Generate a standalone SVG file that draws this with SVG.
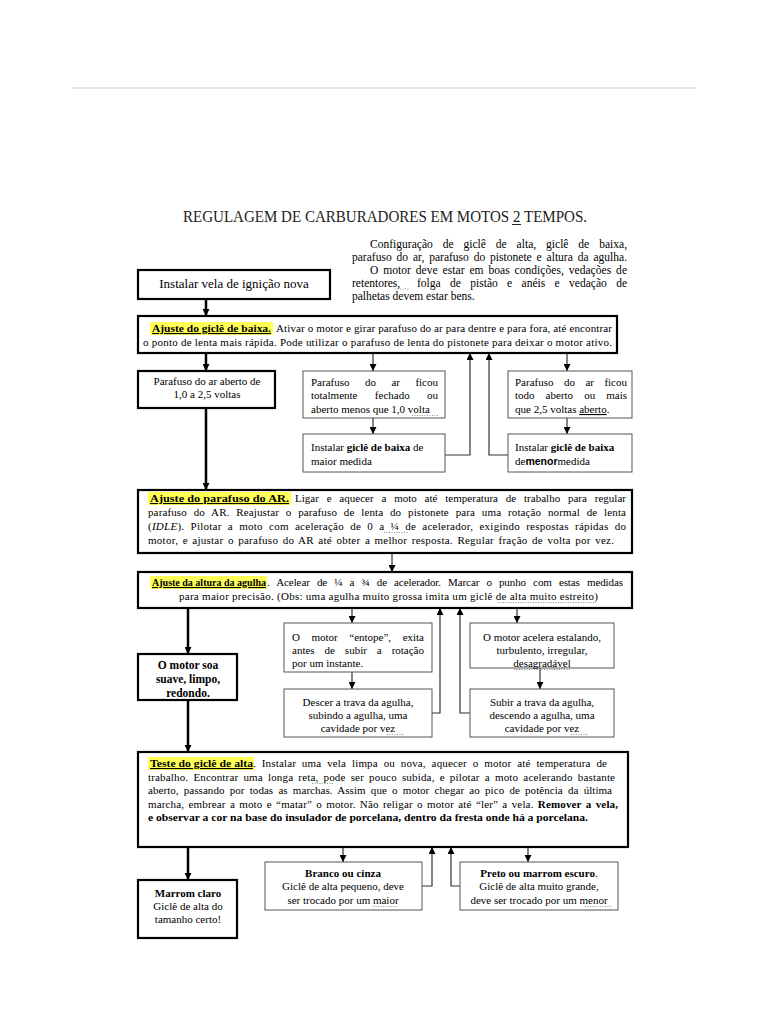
<svg xmlns="http://www.w3.org/2000/svg" width="768" height="1024" viewBox="0 0 768 1024">
<style>
.t{font-family:"Liberation Serif","Times New Roman",serif;font-size:11px;fill:#000}
.p{font-size:11.5px}
.b{font-weight:bold}
.i{font-style:italic}
.u{text-decoration:underline}
.m{text-anchor:middle}
.thick{fill:#fff;stroke:#000;stroke-width:2.2}
.thin{fill:#fff;stroke:#555;stroke-width:1}
.hl{fill:#ffff55}
.c1{fill:none;stroke:#000;stroke-width:2.5}
.c2{fill:none;stroke:#333;stroke-width:1.2}
.sq{stroke:#7f9f7f;stroke-width:1;stroke-dasharray:1 1.5}
</style>
<defs>
<marker id="ah" viewBox="0 0 8 8" refX="8" refY="4" markerWidth="7" markerHeight="7" markerUnits="userSpaceOnUse" orient="auto"><path d="M0,0 L8,4 L0,8 z" fill="#000"/></marker>
</defs>
<rect width="768" height="1024" fill="#fff"/>
<line x1="72" y1="88" x2="696" y2="88" stroke="#dedede" stroke-width="1.5"/>

<g id="title">
<text class="t" x="183" y="222" style="font-size:16px;fill:#222" textLength="404" lengthAdjust="spacingAndGlyphs">REGULAGEM DE CARBURADORES EM MOTOS 2 TEMPOS.</text>
<line x1="512" y1="224.5" x2="521" y2="224.5" stroke="#222" stroke-width="1"/>
</g>

<g id="intro">
<text class="t p" x="370" y="248" style="word-spacing:7px" textLength="257" lengthAdjust="spacing">Configuração de giclê de alta, giclê de baixa,</text>
<text class="t p" x="352" y="261" style="word-spacing:2px" textLength="275" lengthAdjust="spacing">parafuso do ar, parafuso do pistonete e altura da agulha.</text>
<text class="t p" x="370" y="274" style="word-spacing:2px" textLength="257" lengthAdjust="spacing">O motor deve estar em boas condições, vedações de</text>
<text class="t p" x="352" y="287">retentores,</text>
<line class="sq" x1="395" y1="289" x2="410" y2="289"/>
<text class="t p" x="417" y="287" style="word-spacing:6.5px" textLength="210" lengthAdjust="spacing">folga de pistão e anéis e vedação de</text>
<text class="t p" x="352" y="300">palhetas devem estar bens.</text>
</g>

<g id="connectors">
<path class="c1" d="M206,299 V316" marker-end="url(#ah)"/>
<path class="c1" d="M206,353 V371" marker-end="url(#ah)"/>
<path class="c1" d="M206,408 V490" marker-end="url(#ah)"/>
<path class="c1" d="M188,608 V654" marker-end="url(#ah)"/>
<path class="c1" d="M188,700 V752" marker-end="url(#ah)"/>
<path class="c1" d="M188,847 V880" marker-end="url(#ah)"/>
<path class="c2" d="M373,353 V371" marker-end="url(#ah)"/>
<path class="c2" d="M373,418 V434" marker-end="url(#ah)"/>
<path class="c2" d="M445,455 H470 V353" marker-end="url(#ah)"/>
<path class="c2" d="M508,455 H489 V353" marker-end="url(#ah)"/>
<path class="c2" d="M567,353 V371" marker-end="url(#ah)"/>
<path class="c2" d="M567,418 V434" marker-end="url(#ah)"/>
<path class="c2" d="M392,553 V572" marker-end="url(#ah)"/>
<path class="c2" d="M352,608 V623" marker-end="url(#ah)"/>
<path class="c2" d="M352,672 V689" marker-end="url(#ah)"/>
<path class="c2" d="M432,713 H440 V608" marker-end="url(#ah)"/>
<path class="c2" d="M470,713 H460 V608" marker-end="url(#ah)"/>
<path class="c2" d="M517,608 V623" marker-end="url(#ah)"/>
<path class="c2" d="M540,668 V689" marker-end="url(#ah)"/>
<path class="c2" d="M343,847 V862" marker-end="url(#ah)"/>
<path class="c2" d="M422,886 H432 V847" marker-end="url(#ah)"/>
<path class="c2" d="M460,886 H451 V847" marker-end="url(#ah)"/>
<path class="c2" d="M528,847 V862" marker-end="url(#ah)"/>
</g>

<g id="vela">
<rect class="thick" x="138" y="270" width="192" height="29"/>
<text class="t m" x="234" y="288" style="font-size:13px">Instalar vela de ignição nova</text>
</g>

<g id="gicle-baixa">
<rect class="thick" x="138" y="316" width="479" height="37"/>
<rect class="hl" x="150" y="322" width="123" height="13"/>
<text class="t b u" x="152" y="332" textLength="119" lengthAdjust="spacingAndGlyphs">Ajuste do giclê de baixa.</text>
<text class="t" x="276" y="332" textLength="336" lengthAdjust="spacing">Ativar o motor e girar parafuso do ar para dentre e para fora, até encontrar</text>
<text class="t" x="143" y="346" textLength="469" lengthAdjust="spacing">o ponto de lenta mais rápida. Pode utilizar o parafuso de lenta do pistonete para deixar o motor ativo.</text>
</g>

<g id="ar-aberto">
<rect class="thick" x="138" y="371" width="137" height="37"/>
<text class="t m" x="207" y="385">Parafuso do ar aberto de</text>
<text class="t m" x="207" y="398">1,0 a 2,5 voltas</text>
</g>

<g id="ar-fechado">
<rect class="thin" x="303" y="371" width="142" height="47"/>
<text class="t" x="311" y="386" style="word-spacing:12.7px" textLength="127" lengthAdjust="spacing">Parafuso do ar ficou</text>
<text class="t" x="311" y="399" style="word-spacing:14.6px" textLength="127" lengthAdjust="spacing">totalmente fechado ou</text>
<text class="t" x="311" y="413">aberto menos que 1,0 volta</text>
<line class="sq" x1="412" y1="415.5" x2="438" y2="415.5"/>
</g>

<g id="baixa-maior">
<rect class="thin" x="303" y="434" width="142" height="38"/>
<text class="t" x="311" y="451">Instalar <tspan class="b">giclê de baixa</tspan> de</text>
<text class="t" x="311" y="465">maior medida</text>
</g>

<g id="ar-aberto-mais">
<rect class="thin" x="508" y="371" width="124" height="47"/>
<text class="t" x="515" y="386" style="word-spacing:7.7px" textLength="112" lengthAdjust="spacing">Parafuso do ar ficou</text>
<text class="t" x="515" y="399" style="word-spacing:8.3px" textLength="112" lengthAdjust="spacing">todo aberto ou mais</text>
<text class="t" x="515" y="413">que 2,5 voltas <tspan class="u">aberto</tspan>.</text>
</g>

<g id="baixa-menor">
<rect class="thin" x="508" y="434" width="124" height="38"/>
<text class="t" x="515" y="451">Instalar <tspan class="b">giclê de baixa</tspan></text>
<text class="t" x="515" y="465">de<tspan class="b" style="font-family:'Liberation Sans',Arial,sans-serif;font-size:10.5px">menor</tspan>medida</text>
</g>

<g id="parafuso-ar">
<rect class="thick" x="138" y="490" width="494" height="63"/>
<rect class="hl" x="148" y="492" width="143" height="13"/>
<text class="t b u" x="150" y="502" textLength="139" lengthAdjust="spacingAndGlyphs">Ajuste do parafuso do AR.</text>
<text class="t" x="295" y="502" style="word-spacing:5px" textLength="331" lengthAdjust="spacing">Ligar e aquecer a moto até temperatura de trabalho para regular</text>
<text class="t" x="148" y="516" style="word-spacing:3.9px" textLength="478" lengthAdjust="spacing">parafuso do AR. Reajustar o parafuso de lenta do pistonete para uma rotação normal de lenta</text>
<text class="t" x="148" y="530" style="word-spacing:3.2px" textLength="478" lengthAdjust="spacing">(<tspan class="i">IDLE</tspan>). Pilotar a moto com aceleração de 0 a ¼ de acelerador, exigindo respostas rápidas do</text>
<line class="sq" x1="384" y1="532.5" x2="408" y2="532.5"/>
<text class="t" x="148" y="544" style="word-spacing:1.5px" textLength="466" lengthAdjust="spacing">motor, e ajustar o parafuso do AR até obter a melhor resposta. Regular fração de volta por vez.</text>
</g>

<g id="agulha">
<rect class="thick" x="138" y="572" width="494" height="36"/>
<rect class="hl" x="150" y="576" width="117" height="13"/>
<text class="t b u" x="152" y="586" textLength="114" lengthAdjust="spacingAndGlyphs">Ajuste da altura da agulha</text>
<text class="t" x="267" y="586" style="word-spacing:4.5px" textLength="356" lengthAdjust="spacing">. Acelear de ¼ a ¾ de acelerador. Marcar o punho com estas medidas</text>
<text class="t" x="179" y="600" textLength="419" lengthAdjust="spacing">para maior precisão. (Obs: uma agulha muito grossa imita um giclê de alta muito estreito)</text>
<line class="sq" x1="498" y1="602.5" x2="596" y2="602.5"/>
</g>

<g id="soa-suave">
<rect class="thick" x="138" y="654" width="99" height="46"/>
<text class="t b m" x="188" y="669" style="font-size:11.5px">O motor soa</text>
<text class="t b m" x="188" y="683" style="font-size:11.5px">suave, limpo,</text>
<text class="t b m" x="188" y="697" style="font-size:11.5px">redondo.</text>
</g>

<g id="entope">
<rect class="thin" x="284" y="623" width="148" height="49"/>
<text class="t" x="292" y="641" style="word-spacing:8.8px" textLength="132" lengthAdjust="spacing">O motor “entope”, exita</text>
<text class="t" x="292" y="654" style="word-spacing:7.2px" textLength="132" lengthAdjust="spacing">antes de subir a rotação</text>
<text class="t" x="292" y="667">por um instante.</text>
</g>

<g id="descer-trava">
<rect class="thin" x="284" y="689" width="148" height="48"/>
<text class="t m" x="358" y="706">Descer a trava da agulha,</text>
<text class="t m" x="358" y="719">subindo a agulha, uma</text>
<text class="t m" x="358" y="732">cavidade por vez</text>
<line class="sq" x1="387" y1="734.5" x2="403" y2="734.5"/>
</g>

<g id="estalando">
<rect class="thin" x="470" y="623" width="144" height="45"/>
<text class="t m" x="542" y="641">O motor acelera estalando,</text>
<text class="t m" x="542" y="654">turbulento, irregular,</text>
<text class="t m" x="542" y="667">desagradável</text>
<line class="sq" x1="514" y1="669.5" x2="570" y2="669.5"/>
</g>

<g id="subir-trava">
<rect class="thin" x="470" y="689" width="144" height="48"/>
<text class="t m" x="542" y="706">Subir a trava da agulha,</text>
<text class="t m" x="542" y="719">descendo a agulha, uma</text>
<text class="t m" x="542" y="732">cavidade por vez</text>
<line class="sq" x1="571" y1="734.5" x2="587" y2="734.5"/>
</g>

<g id="gicle-alta">
<rect class="thick" x="138" y="752" width="490" height="95"/>
<rect class="hl" x="148" y="757" width="106" height="13"/>
<text class="t b u" x="150" y="767" textLength="103" lengthAdjust="spacingAndGlyphs">Teste do giclê de alta</text>
<text class="t" x="253" y="767" style="word-spacing:3px" textLength="354" lengthAdjust="spacing">. Instalar uma vela limpa ou nova, aquecer o motor até temperatura de</text>
<text class="t" x="148" y="781" style="word-spacing:2.2px" textLength="467" lengthAdjust="spacing">trabalho. Encontrar uma longa reta, pode ser pouco subida, e pilotar a moto acelerando bastante</text>
<line class="sq" x1="312" y1="783.5" x2="334" y2="783.5"/>
<text class="t" x="148" y="794" style="word-spacing:2.4px" textLength="464" lengthAdjust="spacing">aberto, passando por todas as marchas. Assim que o motor chegar ao pico de potência da última</text>
<text class="t" x="148" y="808" style="word-spacing:1.4px" textLength="470" lengthAdjust="spacing">marcha, embrear a moto e “matar” o motor. Não religar o motor até “ler” a vela. <tspan class="b">Remover a vela,</tspan></text>
<text class="t b" x="148" y="821" style="font-size:10px" textLength="440" lengthAdjust="spacingAndGlyphs">e observar a cor na base do insulador de porcelana, dentro da fresta onde há a porcelana.</text>
</g>

<g id="marrom-claro">
<rect class="thick" x="138" y="880" width="99" height="58"/>
<text class="t b m" x="188" y="897">Marrom claro</text>
<text class="t m" x="188" y="910">Giclê de alta do</text>
<text class="t m" x="188" y="923">tamanho certo!</text>
</g>

<g id="branco-cinza">
<rect class="thin" x="265" y="862" width="157" height="48"/>
<text class="t b m" x="343" y="877">Branco ou cinza</text>
<text class="t m" x="343" y="890">Giclê de alta pequeno, deve</text>
<text class="t m" x="343" y="904">ser trocado por um maior</text>
<line class="sq" x1="373" y1="906.5" x2="398" y2="906.5"/>
</g>

<g id="preto-marrom">
<rect class="thin" x="460" y="862" width="158" height="48"/>
<text class="t m" x="539" y="877"><tspan class="b">Preto ou marrom escuro</tspan>.</text>
<text class="t m" x="539" y="890">Giclê de alta muito grande,</text>
<text class="t m" x="539" y="904">deve ser trocado por um menor</text>
<line class="sq" x1="585" y1="906.5" x2="612" y2="906.5"/>
</g>
</svg>
